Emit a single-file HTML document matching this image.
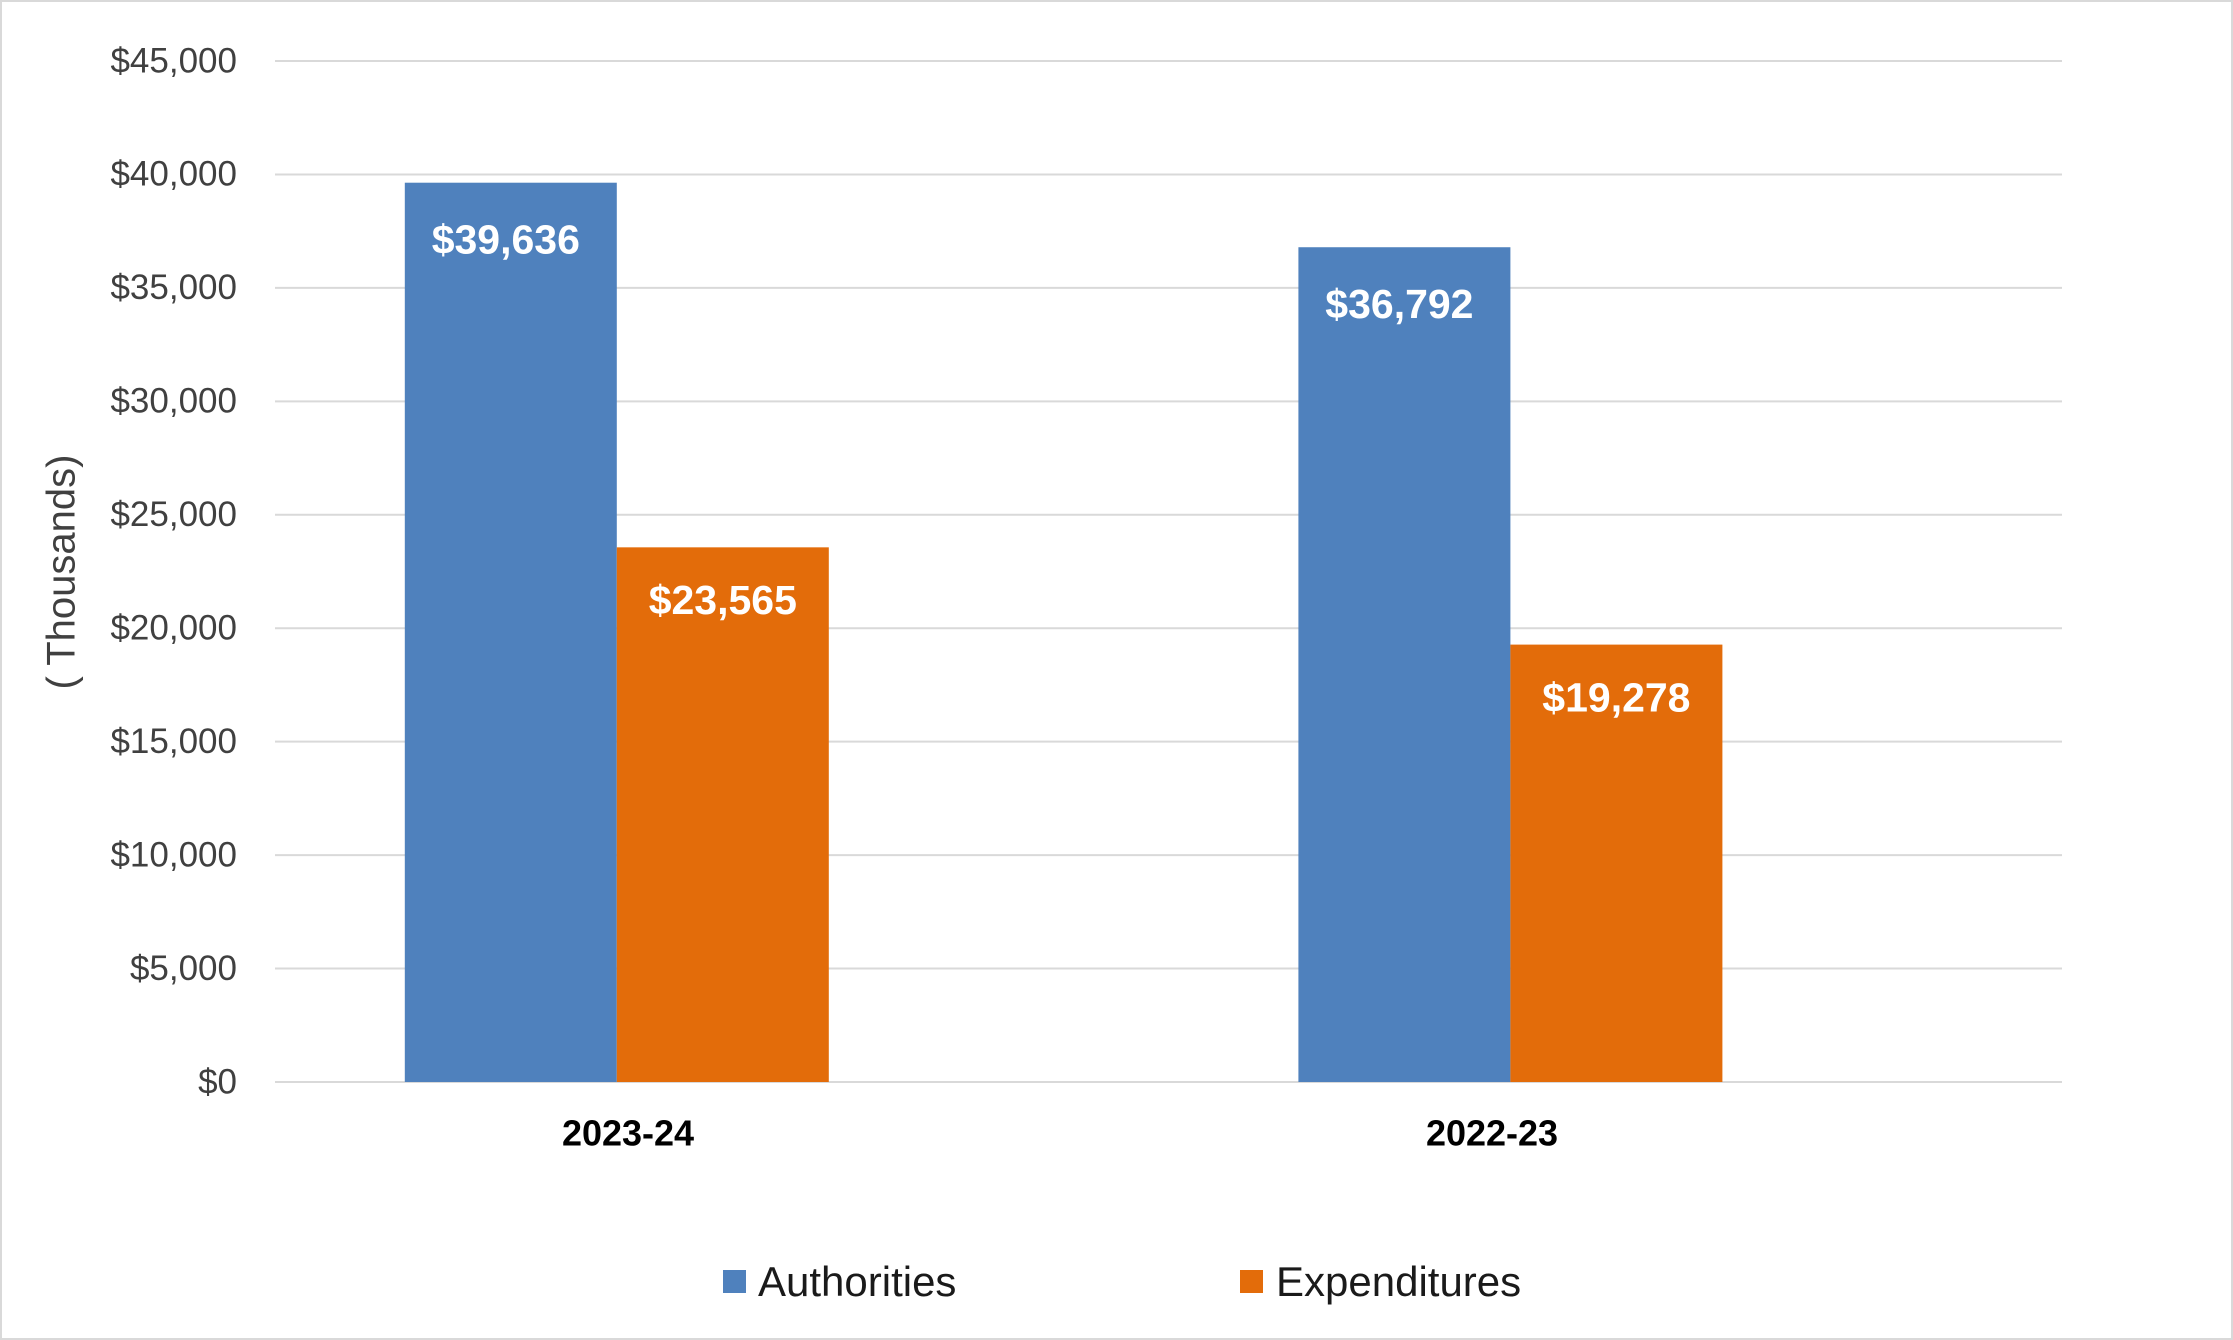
<!DOCTYPE html>
<html>
<head>
<meta charset="utf-8">
<style>
html,body{margin:0;padding:0;background:#fff;}
svg{display:block;}
text{font-family:"Liberation Sans",sans-serif;}
</style>
</head>
<body>
<svg id="chart" width="2233" height="1340" viewBox="0 0 2233 1340">
<rect x="1" y="1" width="2231" height="1338" fill="#fff" stroke="#d9d9d9" stroke-width="2"/>
<g id="grid"></g>
<g id="bars"></g>
<g id="labels"></g>
<text x="64" y="572" transform="rotate(-90 64 572)" text-anchor="middle" dominant-baseline="middle" font-size="40" fill="#404040">( Thousands)</text>
<g>
<rect x="723" y="1270" width="23" height="23" fill="#4f81bd"/>
<text x="758" y="1296" font-size="42" fill="#1a1a1a">Authorities</text>
<rect x="1240" y="1270" width="23" height="23" fill="#e36c0a"/>
<text x="1276" y="1296" font-size="42" fill="#1a1a1a">Expenditures</text>
</g>
</svg>
<script>
const categories = ["2023-24", "2022-23"];
const authorities = [39636, 36792];
const expenditures = [23565, 19278];
const yTicks = [0, 5000, 10000, 15000, 20000, 25000, 30000, 35000, 40000, 45000];
const yTickLabels = ["$0","$5,000","$10,000","$15,000","$20,000","$25,000","$30,000","$35,000","$40,000","$45,000"];
const valueLabelsA = ["$39,636","$36,792"];
const valueLabelsE = ["$23,565","$19,278"];

const NS = "http://www.w3.org/2000/svg";
const y0 = 1082, y1 = 61, yMax = 45000;
const plotL = 275, plotR = 2062;
const bandStart = 170, bandW = 893.6, barW = 212;
function yScale(v){ return y0 - (v / yMax) * (y0 - y1); }
function xCenter(i){ return bandStart + bandW * (i + 0.5); }
function labelX(i){ return 628 + 864 * i; }
function mk(tag, attrs, parent){
  const e = document.createElementNS(NS, tag);
  for (const k in attrs) e.setAttribute(k, attrs[k]);
  parent.appendChild(e);
  return e;
}
const grid = document.getElementById('grid');
const bars = document.getElementById('bars');
const labels = document.getElementById('labels');

yTicks.forEach((t, i) => {
  const y = yScale(t);
  const ln = mk('line', {x1: plotL, x2: plotR, y1: y, y2: y, stroke: '#d9d9d9', 'stroke-width': 2}, grid);
  
  
  const tx = mk('text', {x: 237, y: y + 2, 'text-anchor': 'end', 'dominant-baseline': 'middle', 'font-size': 35, fill: '#404040'}, grid);
  tx.textContent = yTickLabels[i];
  
  
});

categories.forEach((c, i) => {
  const cx = xCenter(i);
  const ya = yScale(authorities[i]);
  const ra = mk('rect', {x: cx - barW, y: ya, width: barW, height: y0 - ya, fill: '#4f81bd'}, bars);
  
  
  const ye = yScale(expenditures[i]);
  const re = mk('rect', {x: cx, y: ye, width: barW, height: y0 - ye, fill: '#e36c0a'}, bars);
  
  
  const la = mk('text', {x: cx - barW/2 - 5, y: ya + 60, 'text-anchor': 'middle', 'dominant-baseline': 'middle', 'font-size': 41, 'font-weight': 'bold', fill: '#fff'}, labels);
  la.textContent = valueLabelsA[i];
  
  
  const le = mk('text', {x: cx + barW/2, y: ye + 56, 'text-anchor': 'middle', 'dominant-baseline': 'middle', 'font-size': 41, 'font-weight': 'bold', fill: '#fff'}, labels);
  le.textContent = valueLabelsE[i];
  
  
  const cl = mk('text', {x: labelX(i), y: 1136, 'text-anchor': 'middle', 'dominant-baseline': 'middle', 'font-size': 36, 'font-weight': 'bold', fill: '#000'}, labels);
  cl.textContent = c;
  
  
});
</script>
</body>
</html>
